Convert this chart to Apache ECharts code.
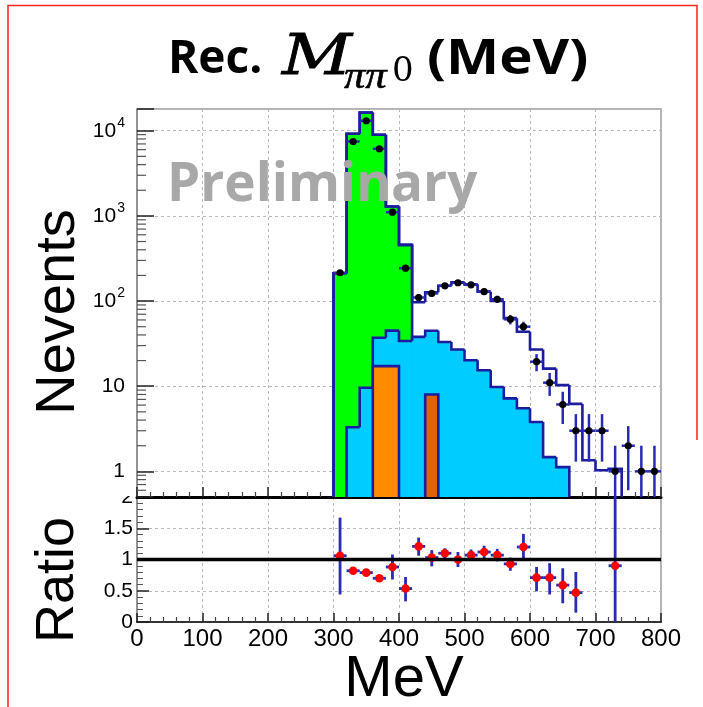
<!DOCTYPE html>
<html><head><meta charset="utf-8">
<script src="https://cdn.jsdelivr.net/npm/echarts@6/dist/echarts.min.js"></script>
<style>html,body{margin:0;padding:0;background:#fff}#c{width:703px;height:707px}</style>
</head><body><div id="c"></div>
<script>
// ---------------- data ----------------
const BIN_WIDTH = 20;
// stacked MC histogram: cumulative tops of each layer (bin low edges in MeV)
const totalBins = [300,320,340,360,380,400,420,440,460,480,500,520,540,560,580,600,620,640,660,680,700,720];
const totalTop  = [212,9220,16400,8970,1288,457,97,127,151,166,157,129,100,63,43.6,27,16.1,10.3,6.2,1.35,1.03,1.07];
const greenBins = [300,320,340,360,380,400];
const greenTop  = [212,9220,16400,8970,1288,457];
const cyanBins  = [320,340,360,380,400,420,440,460,480,500,520,540,560,580,600,620,640];
const cyanTop   = [3.3,9.6,37,45,34,38,44.8,33,27,20.2,15.4,9.8,7.2,5.5,3.8,1.47,1.12];
const orangeBins = [360,380];
const orangeTop  = [17.2,17.2];
const darkOrangeBins = [440];
const darkOrangeTop  = [8.0];
// data points (bin centres), counts and symmetric errors
const dataX   = [310,330,350,370,390,410,430,450,470,490,510,530,550,570,590,610,630,650,670,690,710,730,750,770,790];
const dataY   = [215,7480,13100,6140,1105,243,110,123,151,164,155,129,105,61,50,19.4,11,6.1,3,3,3,1,2,1,1];
const dataErr = [15,86,114,78,33,16,10.5,11,12.3,12.8,12.4,11.4,10.2,7.8,7.1,4.4,3.3,2.5,1.7,1.7,1.7,1,1.4,1,1];
// ratio data / MC
const ratioX  = [310,330,350,370,390,410,430,450,470,490,510,530,550,570,590,610,630,650,670,730];
const ratioY  = [1.06,0.82,0.79,0.70,0.88,0.535,1.21,1.03,1.10,1.00,1.07,1.12,1.07,0.93,1.20,0.71,0.71,0.59,0.47,0.90];
const ratioLo = [0.44,0.78,0.76,0.66,0.68,0.33,1.06,0.89,1.02,0.88,0.98,1.02,0.97,0.82,1.02,0.49,0.44,0.30,0.15,-0.3];
const ratioHi = [1.67,0.86,0.82,0.74,1.08,0.72,1.35,1.15,1.18,1.12,1.16,1.22,1.17,1.03,1.41,0.88,0.94,0.86,0.80,2.6];
// axes
const X_MIN = 0, X_MAX = 800, X_STEP = 100;
const Y_MIN = 0.5, Y_MAX = 18000;
const R_MIN = 0, R_MAX = 2, R_STEP = 0.5;

// ---------------- styles ----------------
const NAVY = '#1c1c9e';
const ERR = '#2a2ab4';
const GRIDLINE = {show:true, lineStyle:{color:'#b8b8b8', width:1, type:[3,3]}};
const FONT = 'Liberation Sans';

function histSeries(name, bins, tops, fill, z) {
  return {
    type:'custom', name, xAxisIndex:0, yAxisIndex:0, z, clip:true,
    data: bins.map((b,i)=>[b, tops[i]]),
    encode:{x:0, y:1},
    renderItem(params, api) {
      const i = params.dataIndex;
      const x0 = api.value(0), v = api.value(1);
      const bl = api.coord([x0, Y_MIN]);
      const tr = api.coord([x0 + BIN_WIDTH, v]);
      const contiguousPrev = i > 0 && bins[i-1] + BIN_WIDTH === x0;
      const prevY = api.coord([x0, contiguousPrev ? tops[i-1] : Y_MIN])[1];
      const endsHere = i === bins.length-1 || bins[i+1] !== x0 + BIN_WIDTH;
      const pts = [[bl[0], prevY],[bl[0], tr[1]],[tr[0], tr[1]]];
      if (endsHere) pts.push([tr[0], bl[1]]);
      const children = [];
      if (fill) children.push({type:'rect', z2:0,
        shape:{x:bl[0], y:tr[1], width:tr[0]-bl[0], height:bl[1]-tr[1]},
        style:{fill, stroke:fill, lineWidth:1}});
      children.push({type:'polyline', z2:5, shape:{points:pts},
        style:{stroke:NAVY, lineWidth:2.6, fill:null}});
      return {type:'group', children};
    }
  };
}

const chart = echarts.init(document.getElementById('c'), null, {renderer:'canvas'});

// log-axis minor tick positions (decoration only)
const logMinor = [];
for (let e = -1; e <= 4; e++) for (let m = 2; m <= 9; m++) {
  const v = m * Math.pow(10, e);
  if (v > Y_MIN && v < Y_MAX) logMinor.push([X_MIN, v]);
}

const option = {
  animation:false,
  backgroundColor:'#fff',
  grid:[
    {left:137, top:109, width:524, height:388, show:true, borderColor:'#9a9a9a', borderWidth:1.5, backgroundColor:'transparent'},
    {left:137, top:497, width:524, height:125, show:true, borderColor:'#9a9a9a', borderWidth:1.5, backgroundColor:'transparent'}
  ],
  xAxis:[
    {type:'value', gridIndex:0, min:X_MIN, max:X_MAX, interval:X_STEP,
     axisLine:{show:true, onZero:false, lineStyle:{color:'#000', width:3}},
     axisTick:{show:true, inside:true, length:10, lineStyle:{color:'#222', width:1.5}},
     minorTick:{show:true, splitNumber:5, length:5, lineStyle:{color:'#444', width:1.2}},
     axisLabel:{show:false}, splitLine:GRIDLINE},
    {type:'value', gridIndex:1, min:X_MIN, max:X_MAX, interval:X_STEP,
     axisLine:{show:true, onZero:false, lineStyle:{color:'#333', width:2}},
     axisTick:{show:true, inside:true, length:9, lineStyle:{color:'#222', width:1.5}},
     minorTick:{show:true, splitNumber:5, length:5, lineStyle:{color:'#444', width:1.2}},
     axisLabel:{show:true, color:'#000', fontFamily:FONT, fontSize:24, margin:5},
     splitLine:GRIDLINE}
  ],
  yAxis:[
    {type:'log', logBase:10, gridIndex:0, min:Y_MIN, max:Y_MAX,
     axisLine:{show:true, lineStyle:{color:'#888', width:1.5}},
     axisTick:{show:true, inside:true, length:17, lineStyle:{color:'#222', width:1.5}},
     axisLabel:{show:true, margin:12, color:'#000', fontFamily:FONT, fontSize:21,
       formatter:v=>{const l=Math.log10(v), e=Math.round(l); if(Math.abs(l-e)>1e-6) return ''; if(e===0) return '1'; if(e===1) return '10'; return '{b|10}{s|'+e+'}';},
       rich:{b:{fontSize:21, lineHeight:21, fontFamily:FONT, color:'#000', verticalAlign:'bottom'},
             s:{fontSize:14, lineHeight:14, fontFamily:FONT, color:'#000', verticalAlign:'bottom', padding:[0,0,11,1]}}},
     splitLine:GRIDLINE},
    {type:'value', gridIndex:1, min:R_MIN, max:R_MAX, interval:R_STEP,
     axisLine:{show:true, lineStyle:{color:'#888', width:1.5}},
     axisTick:{show:true, inside:true, length:12, lineStyle:{color:'#222', width:1.5}},
     minorTick:{show:true, splitNumber:5, length:6, lineStyle:{color:'#555', width:1}},
     axisLabel:{show:true, margin:4, color:'#000', fontFamily:FONT, fontSize:21, formatter:v=>String(v)},
     splitLine:GRIDLINE}
  ],
  series:[
    histSeries('total', totalBins, totalTop, null, 6),
    histSeries('green', greenBins, greenTop, '#00ff00', 2),
    histSeries('cyan', cyanBins, cyanTop, '#00ccff', 3),
    histSeries('orange', orangeBins, orangeTop, '#ff8c00', 4),
    histSeries('darkorange', darkOrangeBins, darkOrangeTop, '#dd6408', 4),
    { // log minor ticks
      type:'custom', xAxisIndex:0, yAxisIndex:0, z:7, data:logMinor, encode:{x:0,y:1}, silent:true,
      renderItem(params, api){ const p = api.coord([api.value(0), api.value(1)]);
        return {type:'line', shape:{x1:p[0], y1:p[1], x2:p[0]+9, y2:p[1]}, style:{stroke:'#555', lineWidth:1.2}}; }
    },
    { // data points
      type:'custom', name:'data', xAxisIndex:0, yAxisIndex:0, z:8, clip:true,
      data:dataX.map((x,i)=>[x, dataY[i], dataErr[i]]), encode:{x:0,y:1},
      renderItem(params, api){
        const x = api.value(0), y = api.value(1), e = api.value(2);
        const c = api.coord([x, y]);
        const lo = api.coord([x, Math.max(y - e, 1e-3)]);
        const hi = api.coord([x, y + e]);
        const l = api.coord([x - BIN_WIDTH/2, y]), r = api.coord([x + BIN_WIDTH/2, y]);
        return {type:'group', children:[
          {type:'line', shape:{x1:c[0], y1:lo[1], x2:c[0], y2:hi[1]}, style:{stroke:ERR, lineWidth:2.5}},
          {type:'line', shape:{x1:l[0], y1:c[1], x2:r[0], y2:c[1]}, style:{stroke:ERR, lineWidth:2.5}},
          {type:'circle', shape:{cx:c[0], cy:c[1], r:3.6}, style:{fill:'#000'}}
        ]};
      }
    },
    { // ratio points
      type:'custom', name:'ratio', xAxisIndex:1, yAxisIndex:1, z:8, clip:true,
      data:ratioX.map((x,i)=>[x, ratioY[i], ratioLo[i], ratioHi[i]]), encode:{x:0,y:1},
      renderItem(params, api){
        const x = api.value(0), y = api.value(1);
        const c = api.coord([x, y]);
        const lo = api.coord([x, api.value(2)]), hi = api.coord([x, api.value(3)]);
        const l = api.coord([x - BIN_WIDTH/2, y]), r = api.coord([x + BIN_WIDTH/2, y]);
        return {type:'group', children:[
          {type:'line', shape:{x1:c[0], y1:lo[1], x2:c[0], y2:hi[1]}, style:{stroke:ERR, lineWidth:2.8}},
          {type:'line', shape:{x1:l[0], y1:c[1], x2:r[0], y2:c[1]}, style:{stroke:ERR, lineWidth:2.8}},
          {type:'circle', shape:{cx:c[0], cy:c[1], r:4.3}, style:{fill:'#ff0000'}}
        ]};
      }
    },
    { // unity line
      type:'line', xAxisIndex:1, yAxisIndex:1, z:9, silent:true, symbol:'none',
      data:[[X_MIN,1],[X_MAX,1]], lineStyle:{color:'#000', width:3.5}
    }
  ],
  graphic:[
    {type:'polyline', z:100, shape:{points:[[8,712],[8,5.5],[697,5.5],[697,440]]}, style:{stroke:'#ff2020', lineWidth:1.5, fill:null}},
    {type:'rect', z:100, shape:{x:95, y:482, width:40, height:14}, style:{fill:'#fff'}},
    {type:'text', z:100, x:168, y:60, style:{text:'Rec.', font:'bold 46px "Open Sans"', fill:'#000', verticalAlign:'middle'}},
    {type:'text', z:100, x:282, y:59, scaleX:1.22, style:{text:'M', font:'italic 56px "DejaVu Serif"', fill:'#000', stroke:'#000', lineWidth:0.8, verticalAlign:'middle'}},
    {type:'text', z:100, x:344, y:78, scaleX:1.12, style:{text:'ππ', font:'italic 38px "Liberation Serif"', fill:'#000', stroke:'#000', lineWidth:0.6, verticalAlign:'middle'}},
    {type:'text', z:100, x:392, y:72, style:{text:'0', font:'34px "DejaVu Serif"', fill:'#000', verticalAlign:'middle'}},
    {type:'text', z:100, x:427, y:60, scaleX:1.15, style:{text:'(MeV)', font:'bold 49px "Open Sans"', fill:'#000', verticalAlign:'middle'}},
    {type:'text', z:100, x:167, y:186, style:{text:'Preliminary', font:'bold 53px "Open Sans"', fill:'#a8a8a8', verticalAlign:'middle'}},
    {type:'text', z:100, x:59, y:312, rotation:Math.PI/2, style:{text:'Nevents', font:'56px "Liberation Sans"', fill:'#000', align:'center', verticalAlign:'middle'}},
    {type:'text', z:100, x:58, y:580, rotation:Math.PI/2, style:{text:'Ratio', font:'54px "Liberation Sans"', fill:'#000', align:'center', verticalAlign:'middle'}},
    {type:'text', z:100, x:404, y:680, style:{text:'MeV', font:'58px "Liberation Sans"', fill:'#000', align:'center', verticalAlign:'middle'}}
  ]
};
chart.setOption(option);
</script></body></html>
